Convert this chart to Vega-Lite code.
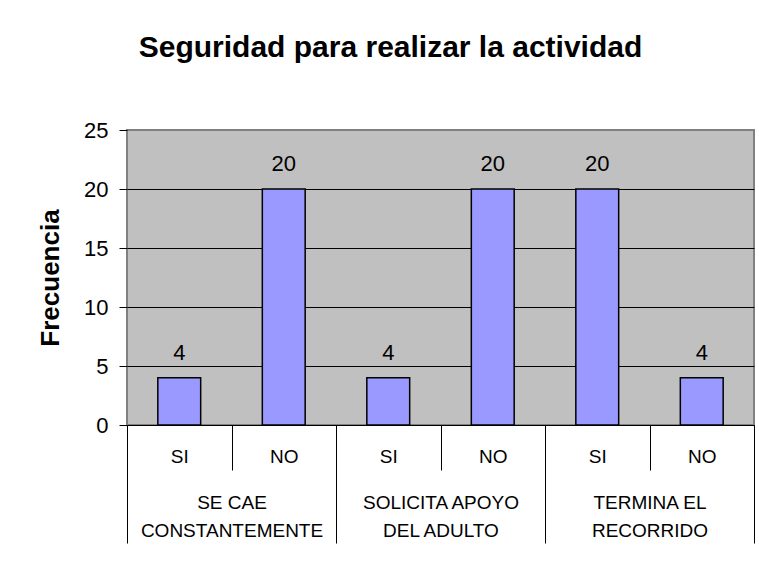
{
  "$schema": "https://vega.github.io/schema/vega-lite/v6.json",
  "width": 627,
  "height": 295,
  "autosize": {"type": "none"},
  "padding": {"left": 127, "top": 130, "right": 5, "bottom": 136},
  "background": "white",
  "title": {
    "text": "Seguridad para realizar la actividad",
    "font": "Liberation Sans",
    "fontSize": 30,
    "fontWeight": "bold",
    "color": "black",
    "anchor": "middle",
    "frame": "group",
    "dx": -50,
    "baseline": "alphabetic",
    "offset": 32
  },
  "config": {
    "font": "Liberation Sans",
    "view": {"fill": "#C0C0C0", "stroke": "#808080", "strokeWidth": 2},
    "axis": {"labelFont": "Liberation Sans", "titleFont": "Liberation Sans", "labelColor": "black", "titleColor": "black"}
  },
  "data": {
    "values": [
      {"barra": "1|SI", "grupo": "SE CAE|CONSTANTEMENTE", "frecuencia": 4},
      {"barra": "2|NO", "grupo": "SE CAE|CONSTANTEMENTE", "frecuencia": 20},
      {"barra": "3|SI", "grupo": "SOLICITA APOYO|DEL ADULTO", "frecuencia": 4},
      {"barra": "4|NO", "grupo": "SOLICITA APOYO|DEL ADULTO", "frecuencia": 20},
      {"barra": "5|SI", "grupo": "TERMINA EL|RECORRIDO", "frecuencia": 20},
      {"barra": "6|NO", "grupo": "TERMINA EL|RECORRIDO", "frecuencia": 4}
    ]
  },
  "encoding": {
    "y": {
      "field": "frecuencia",
      "type": "quantitative",
      "scale": {"domain": [0, 25], "nice": false},
      "axis": {
        "title": "Frecuencia",
        "titleFontSize": 26,
        "titleFontWeight": "bold",
        "titlePadding": 20,
        "values": [0, 5, 10, 15, 20, 25],
        "labelFontSize": 22,
        "labelPadding": 11,
        "tickSize": 8,
        "tickColor": "black",
        "domain": false,
        "grid": true,
        "gridColor": {"condition": {"test": "datum.value == 25 || datum.value == 0", "value": "#808080"}, "value": "black"},
        "gridOpacity": 1,
        "gridWidth": 1
      }
    }
  },
  "layer": [
    {
      "encoding": {
        "x": {
          "field": "barra",
          "type": "nominal",
          "sort": null,
          "scale": {"paddingInner": 0, "paddingOuter": 0},
          "axis": {
            "title": null,
            "labelExpr": "split(datum.label, '|')[1]",
            "labelAngle": 0,
            "labelFontSize": 19,
            "labelPadding": -23,
            "labelOverlap": false,
            "labelBound": false,
            "labelLimit": 400,
            "tickBand": "extent",
            "tickSize": 45,
            "tickColor": "black",
            "domainColor": "black",
            "domainWidth": 1
          }
        }
      },
      "layer": [
        {
          "mark": {"type": "bar", "fill": "#9999FF", "stroke": "black", "strokeWidth": 1.5, "width": {"band": 0.41}}
        },
        {
          "mark": {"type": "text", "fontSize": 22, "color": "black", "baseline": "alphabetic", "dy": -18},
          "encoding": {"text": {"field": "frecuencia", "type": "quantitative"}}
        }
      ]
    },
    {
      "mark": {"type": "bar", "opacity": 0},
      "encoding": {
        "x": {
          "field": "grupo",
          "type": "nominal",
          "sort": null,
          "scale": {"paddingInner": 0, "paddingOuter": 0},
          "axis": {
            "title": null,
            "orient": "bottom",
            "labelExpr": "split(datum.label, '|')",
            "labelAngle": 0,
            "labelFontSize": 19,
            "labelLineHeight": 28,
            "labelPadding": -50,
            "labelOverlap": false,
            "labelBound": false,
            "labelLimit": 400,
            "tickBand": "extent",
            "tickSize": 118,
            "tickColor": "black",
            "domain": false
          }
        }
      }
    }
  ],
  "resolve": {"scale": {"x": "independent"}, "axis": {"x": "independent"}}
}
